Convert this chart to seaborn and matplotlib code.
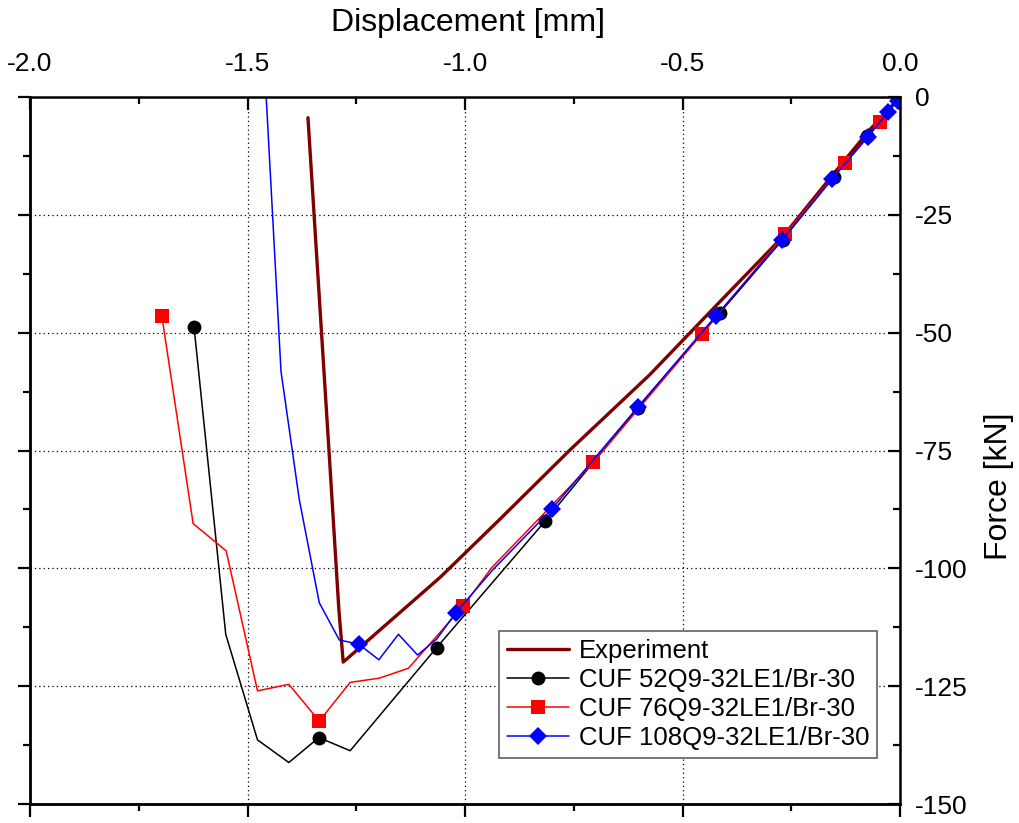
import pandas as pd
import numpy as np
import matplotlib
matplotlib.use("Agg")
import matplotlib.pyplot as plt
import seaborn as sns
from matplotlib.ticker import MultipleLocator

# data (displacement in mm, force in kN)
exp_disp = [0.0, -0.07, -0.15, -0.27, -0.42, -0.575, -0.76, -0.92, -1.057, -1.28, -1.29, -1.31, -1.361]
exp_force = [0.0, -7.0, -16.0, -29.7, -44.0, -58.9, -75.0, -89.6, -101.9, -119.9, -108.7, -79.0, -4.4]

cuf52_disp = [0.0, -0.076, -0.152, -0.27, -0.414, -0.602, -0.816, -1.065, -1.264, -1.336, -1.405, -1.477, -1.550, -1.623]
cuf52_force = [0.0, -8.3, -16.9, -30.3, -45.8, -65.9, -90.0, -116.8, -138.7, -135.9, -141.2, -136.4, -114.0, -48.7]
cuf52_marks = [0, 1, 2, 3, 4, 5, 6, 7, 9, 13]

cuf76_disp = [0.0, -0.046, -0.126, -0.264, -0.455, -0.705, -0.939, -1.004, -1.130, -1.197, -1.264, -1.335, -1.405, -1.477, -1.549, -1.625, -1.697]
cuf76_force = [0.0, -5.3, -14.0, -29.0, -50.2, -77.5, -99.9, -108.0, -121.2, -123.3, -124.2, -132.4, -124.6, -126.0, -96.3, -90.5, -46.4]
cuf76_marks = [0, 1, 2, 3, 4, 5, 7, 11, 16]

cuf108_disp = [-0.005, -0.028, -0.074, -0.156, -0.271, -0.423, -0.602, -0.801, -0.935, -1.021, -1.065, -1.109, -1.153, -1.198, -1.244, -1.289, -1.335, -1.381, -1.423, -1.457]
cuf108_force = [-0.8, -3.2, -8.5, -17.4, -30.3, -46.4, -65.7, -87.5, -100.2, -109.4, -115.0, -118.4, -114.0, -119.4, -116.1, -115.2, -107.3, -85.4, -58.2, 0.0]
cuf108_marks = [0, 1, 2, 3, 4, 5, 6, 7, 9, 14]

sns.set_style("white")
plt.rcParams['font.family'] = ['Liberation Sans', 'DejaVu Sans']
plt.rcParams['axes.unicode_minus'] = False
for key in ['text.color', 'axes.labelcolor', 'xtick.color', 'ytick.color']:
    plt.rcParams[key] = 'black'

fig = plt.figure(figsize=(10.19, 8.23), dpi=100)
ax = fig.add_axes([30/1019, 1 - 804/823, 870/1019, 707/823])

# experiment: thick dark red line, no markers
sns.lineplot(x=exp_disp, y=exp_force, sort=False, estimator=None, color='#800000',
             linewidth=2.4, label='Experiment', ax=ax)

series = [
    (cuf52_disp, cuf52_force, cuf52_marks, 'black', 'o', 10, 'CUF 52Q9-32LE1/Br-30'),
    (cuf76_disp, cuf76_force, cuf76_marks, '#ff0000', 's', 9.5, 'CUF 76Q9-32LE1/Br-30'),
    (cuf108_disp, cuf108_force, cuf108_marks, '#0000ff', 'D', 9, 'CUF 108Q9-32LE1/Br-30'),
]
for d, f, marks, col, mk, ms, name in series:
    sns.lineplot(x=d, y=f, sort=False, estimator=None, color=col, linewidth=1.1,
                 marker=mk, markersize=ms, markevery=marks, markeredgewidth=0,
                 label=name, ax=ax)

ax.set_xlim(-2.0, 0.0)
ax.set_ylim(-150, 0)

# ticks labelled on top and right, pointing in
ax.xaxis.set_major_locator(MultipleLocator(0.5))
ax.xaxis.set_minor_locator(MultipleLocator(0.25))
ax.yaxis.set_major_locator(MultipleLocator(25))
ax.yaxis.set_minor_locator(MultipleLocator(12.5))
ax.xaxis.tick_top()
ax.yaxis.tick_right()
ax.set_xticks([-2.0, -1.5, -1.0, -0.5, 0.0])
ax.set_xticklabels(['-2.0', '-1.5', '-1.0', '-0.5', '0.0'])
ax.tick_params(axis='x', which='major', direction='in', length=9, width=1.6, pad=15, labelsize=19)
ax.tick_params(axis='x', which='minor', direction='in', length=5, width=1.6)
ax.tick_params(axis='y', which='major', direction='in', length=9, width=1.6, pad=11, labelsize=19)
ax.tick_params(axis='y', which='minor', direction='in', length=5, width=1.6)

# bottom and left ticks point out
sec_x = ax.secondary_xaxis('bottom')
sec_x.xaxis.set_major_locator(MultipleLocator(0.5))
sec_x.xaxis.set_minor_locator(MultipleLocator(0.25))
sec_x.tick_params(which='major', direction='out', length=9, width=1.6, labelbottom=False)
sec_x.tick_params(which='minor', direction='out', length=5, width=1.6)
sec_x.spines['bottom'].set_linewidth(1.8)
sec_y = ax.secondary_yaxis('left')
sec_y.yaxis.set_major_locator(MultipleLocator(25))
sec_y.yaxis.set_minor_locator(MultipleLocator(12.5))
sec_y.tick_params(which='major', direction='out', length=9, width=1.6, labelleft=False)
sec_y.tick_params(which='minor', direction='out', length=5, width=1.6)
sec_y.spines['left'].set_linewidth(1.8)

for s in ax.spines.values():
    s.set_linewidth(1.8)
    s.set_color('black')

ax.grid(True, which='major', linestyle=(0, (1, 2.5)), linewidth=0.9, color='black')

ax.set_xlabel('Displacement [mm]', fontsize=23)
ax.xaxis.set_label_position('top')
ax.xaxis.set_label_coords(0.504, 1.093)
ax.set_ylabel('Force [kN]', fontsize=23)
ax.yaxis.set_label_position('right')
ax.yaxis.set_label_coords(1.096, 0.45)

leg = ax.legend(loc='lower right', bbox_to_anchor=(0.9736, 0.065), borderaxespad=0,
                fontsize=18.5, frameon=True, fancybox=False, framealpha=1,
                edgecolor='#606060', handlelength=2.4, labelspacing=0.2,
                handletextpad=0.4, borderpad=0.3)
leg.get_frame().set_linewidth(1.2)

fig.savefig('out.png', dpi=100)
